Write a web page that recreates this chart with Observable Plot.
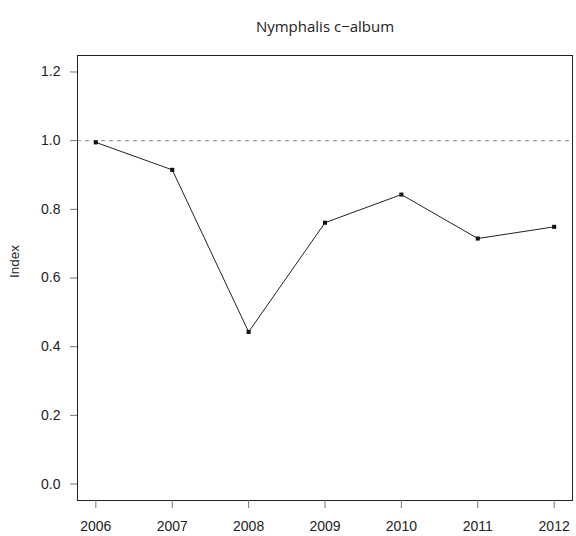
<!DOCTYPE html>
<html>
<head>
<meta charset="utf-8">
<script src="https://cdn.jsdelivr.net/npm/d3@7"></script>
<script src="https://cdn.jsdelivr.net/npm/@observablehq/plot@0.6"></script>
<style>
  body { margin: 0; background: #fff; }
  svg { font-family: "Liberation Sans", Arial, sans-serif; }
</style>
</head>
<body>
<div id="chart"></div>
<script>
const title = "Nymphalis c\u2212album";
const yLabel = "Index";
const years = [2006, 2007, 2008, 2009, 2010, 2011, 2012];
const indexValues = [0.995, 0.915, 0.443, 0.761, 0.843, 0.715, 0.749];
const yTicks = [0, 0.2, 0.4, 0.6, 0.8, 1.0, 1.2];
const referenceLevel = [1.0];

const data = years.map((year, i) => ({ year, value: indexValues[i] }));

const chart = Plot.plot({
  width: 576,
  height: 536,
  marginLeft: 77,
  marginRight: 4,
  marginTop: 55,
  marginBottom: 36,
  style: { fontFamily: '"Liberation Sans", Arial, sans-serif', fontSize: "14px", background: "#fff" },
  x: { domain: [2005.76, 2012.24] },
  y: { domain: [-0.048, 1.248] },
  marks: [
    Plot.ruleY(referenceLevel, { stroke: "#888", strokeDasharray: "4,4", strokeWidth: 1 }),
    Plot.line(data, { x: "year", y: "value", stroke: "#222", strokeWidth: 1 }),
    Plot.dot(data, { x: "year", y: "value", symbol: "square", r: 2.3, fill: "#111", stroke: "none" }),
    Plot.frame({ stroke: "#222", strokeWidth: 1 }),
    Plot.axisX(years, {
      tickFormat: d => String(d),
      tickSize: 8,
      tickPadding: 13,
      stroke: "#777",
      fontSize: 14,
      fill: "#222",
      label: null
    }),
    Plot.axisY(yTicks, {
      tickFormat: d => d.toFixed(1),
      tickSize: 7,
      tickPadding: 10,
      stroke: "#777",
      fontSize: 14,
      fill: "#222",
      label: null
    }),
    Plot.text([yLabel], { frameAnchor: "left", dx: -63, rotate: -90, fontSize: 13.5, fill: "#222" }),
    Plot.text([title], { frameAnchor: "top", dy: -34.5, fontSize: 15, fontFamily: '"Open Sans", sans-serif', fill: "#222" })
  ]
});
document.getElementById("chart").appendChild(chart);
</script>
</body>
</html>
